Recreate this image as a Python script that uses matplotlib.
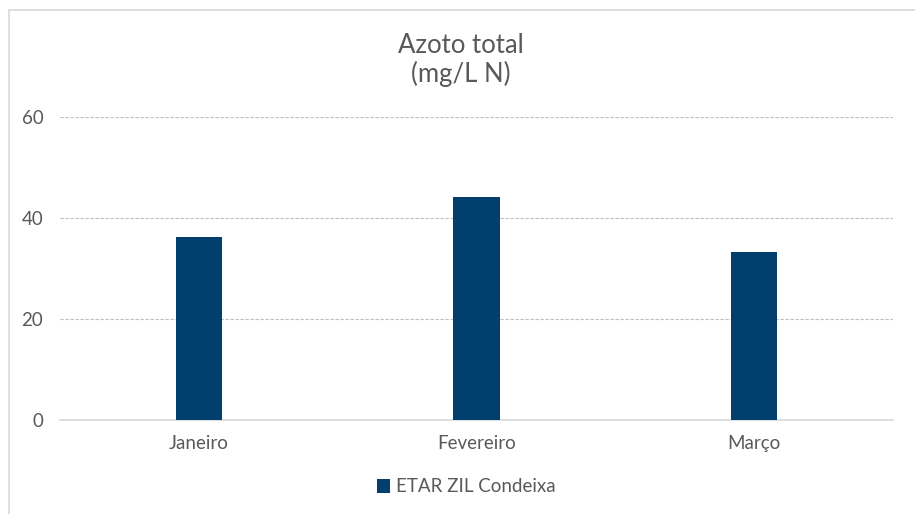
import matplotlib.pyplot as plt
from matplotlib.patches import Rectangle

months = ['Janeiro', 'Fevereiro', 'Março']
azoto = [36.2, 44.1, 33.2]
series_name = 'ETAR ZIL Condeixa'
yticks = [0, 20, 40, 60]

bar_color = '#003F6E'
text_color = '#595959'

plt.rcParams['font.family'] = ['Lato', 'DejaVu Sans']

fig = plt.figure(figsize=(9.15, 5.14), dpi=100)
ax = fig.add_axes([60 / 915, 1 - 420 / 514, 833 / 915, 303 / 514])

x = range(len(months))
ax.bar(x, azoto, width=0.166, color=bar_color, label=series_name, zorder=3)

ax.set_xlim(-0.5, len(months) - 0.5)
ax.set_ylim(0, 60)
ax.set_yticks(yticks)
ax.set_xticks(list(x))
ax.set_xticklabels(months)
ax.grid(axis='y', color='#BFBFBF', linestyle=(0, (3, 1.5)), linewidth=0.8, zorder=0)
for s in ['top', 'right', 'left']:
    ax.spines[s].set_visible(False)
ax.spines['bottom'].set_color('#D9D9D9')
ax.spines['bottom'].set_linewidth(1.2)
ax.tick_params(length=0, labelsize=13.5, colors=text_color, pad=11)
ax.tick_params(axis='y', pad=12)

fig.text(461 / 915, 1 - 60 / 514, 'Azoto total\n(mg/L N)', ha='center', va='center',
         fontsize=18.5, color=text_color, linespacing=1.15)

fig.legend(loc='center', bbox_to_anchor=(466 / 915, 1 - 487 / 514), frameon=False,
           fontsize=13.5, labelcolor=text_color, handlelength=0.7, handleheight=0.7,
           handletextpad=0.3)

# outer chart border (cropped at right and bottom)
fig.patches.append(Rectangle((9 / 915, -0.1), 1.1, 1 - 10 / 514 + 0.1, transform=fig.transFigure,
                             fill=False, edgecolor='#D9D9D9', linewidth=1.2))

fig.savefig('out.png', dpi=100)
